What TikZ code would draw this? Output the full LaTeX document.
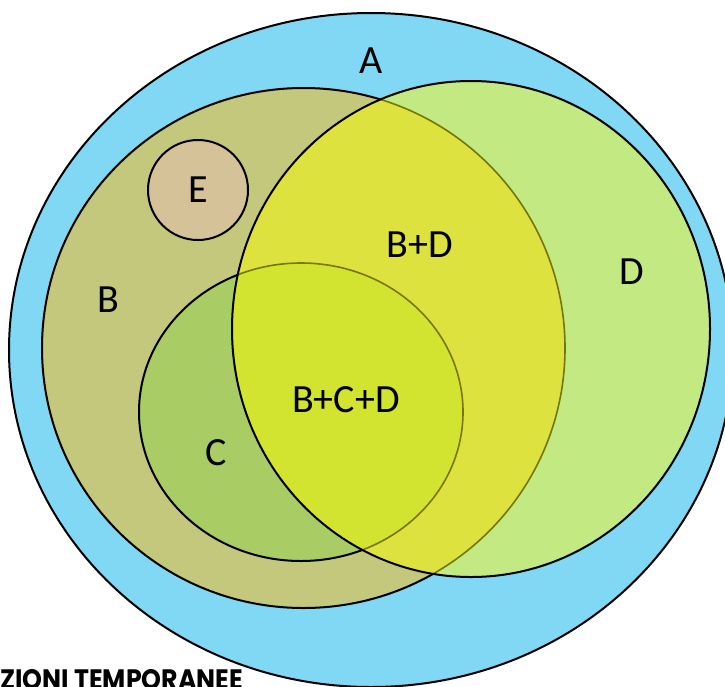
\documentclass[tikz,border=0pt]{standalone}
\usepackage{fontspec}
\setmainfont{Carlito}
\newfontfamily\headfont{Poppins}[UprightFont=* Bold]
\definecolor{colA}{RGB}{128,216,245}
\definecolor{colB}{RGB}{196,200,124}
\definecolor{colC}{RGB}{170,204,100}
\definecolor{colE}{RGB}{213,194,152}
\definecolor{colD}{RGB}{194,233,130}
\definecolor{colBD}{RGB}{222,226,62}
\definecolor{colBCD}{RGB}{210,228,48}
\definecolor{seam}{RGB}{118,118,0}
\tikzset{
  rim/.style={draw=black, line width=2pt},
  seamline/.style={draw=seam, line width=1.6pt},
  lbl/.style={font=\fontsize{40}{48}\selectfont, inner sep=0pt},
  % set shapes
  shapeA/.style={insert path={(371,350) ellipse [x radius=362pt, y radius=337pt]}},
  shapeB/.style={insert path={(303.5,348) ellipse [x radius=261.5pt, y radius=260pt]}},
  shapeC/.style={insert path={(301,412) ellipse [x radius=162pt, y radius=149pt]}},
  shapeD/.style={insert path={(471,329) ellipse [x radius=239pt, y radius=248pt]}},
  shapeE/.style={insert path={(198,190) circle [radius=50pt]}},
}
\begin{document}
\begin{tikzpicture}[x=1pt,y=-1pt]
\useasboundingbox (0,0) rectangle (725,686);
\clip (0,0) rectangle (725,686);

% outer set A
\path[fill=colA, rim, shapeA];

% B with its inner sets E and C
\path[fill=colB, shapeB];
\path[fill=colE, rim, shapeE];
\path[fill=colC, shapeC];
\path[rim, shapeB];
\path[rim, shapeC];

% D, tinted where it overlaps B and C
\path[fill=colD, shapeD];
\begin{scope}
  \clip[shapeD];
  \path[fill=colBD, shapeB];
  \path[fill=colBCD, shapeC];
  \path[seamline, shapeB];
  \path[seamline, shapeC];
\end{scope}
\path[rim, shapeD];

% labels
\node[lbl] (lA) at (371,61) {A};
\node[lbl] (lE) at (198,190) {E};
\node[lbl] (lBD) at (420,245) {B+D};
\node[lbl] (lD) at (632,272) {D};
\node[lbl] (lB) at (108,300) {B};
\node[lbl] (lBCD) at (346,400) {B+C+D};
\node[lbl] (lC) at (216,453) {C};

% running title along the lower edge
\node[anchor=north west, inner sep=0pt] (caption) at (0,669)
  {\resizebox{243pt}{20pt}{\headfont ZIONI TEMPORANEE}};
\end{tikzpicture}
\end{document}
